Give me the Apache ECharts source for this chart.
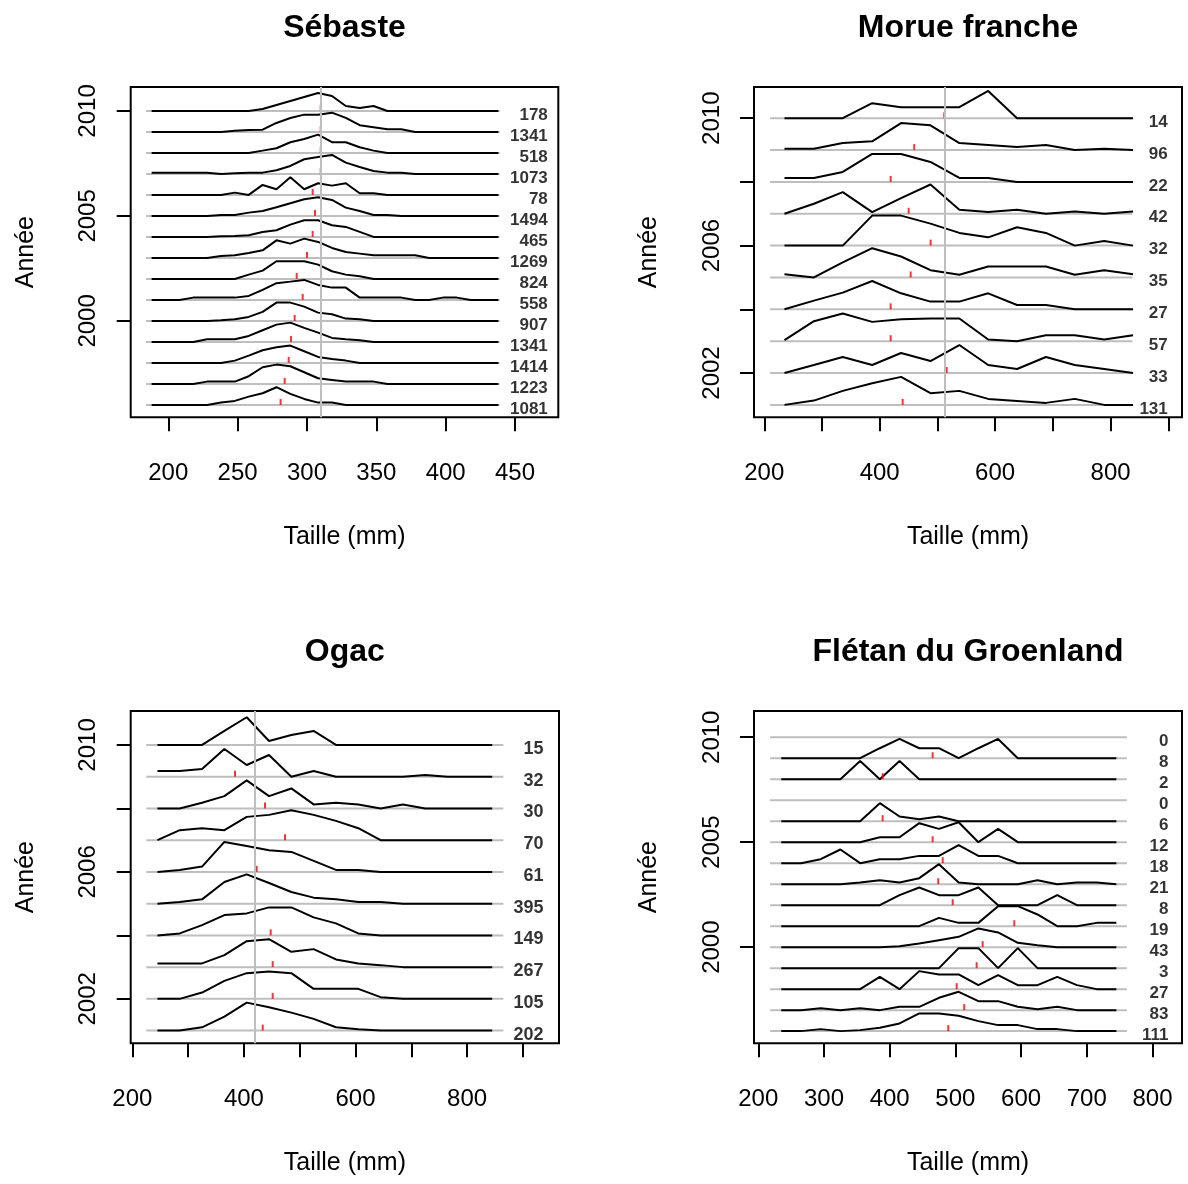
<!DOCTYPE html>
<html>
<head>
<meta charset="utf-8">
<script src="https://cdn.jsdelivr.net/npm/echarts@6/dist/echarts.min.js"></script>
<style>
  html, body { margin: 0; padding: 0; background: #ffffff; }
  #chart { width: 1188px; height: 1184px; }
</style>
</head>
<body>
<div id="chart"></div>
<script>
// Length-frequency profiles per year for four species.
// Each row: relative frequency by length class, drawn above its year baseline.

// ---------- Sébaste ----------
const sebasteTailles = [188,198,208,218,228,238,248,258,268,278,288,298,308,318,328,338,348,358,368,378,388,398,408,418,428,438];
const sebasteAnnees = [2010,2009,2008,2007,2006,2005,2004,2003,2002,2001,2000,1999,1998,1997,1996];
const sebasteEffectifs = [178,1341,518,1073,78,1494,465,1269,824,558,907,1341,1414,1223,1081];
const sebasteMoyennes = [309.9,309.9,309.9,309.9,304.1,305.8,304.1,300.0,292.6,296.9,291.1,288.5,286.8,283.9,281.0];
const sebasteFrequences = [
  [0,0,0,0,0,0,0,0,2,6,10,14,18,15,5,3,5,0,0,0,0,0,0,0,0,0],
  [0,0,0,0,0,0,1.3,2,2.3,9,14,17.3,17.3,19.3,14,6.7,4.7,2.7,2.7,0,0,0,0,0,0,0],
  [0,0,0,0,0,0,0,0,2.3,4.7,10.7,14,18.3,10.7,10.7,5.7,2.3,0,0,0,0,0,0,0,0,0],
  [1.3,1.3,1.3,1.3,1.3,0,0.7,1.3,1.3,3.7,8,14.7,17,19,11.3,7,3,1.3,1.3,0,0,0,0,0,0,0],
  [0,0,0,0,0,0,2.3,0,10,5.7,17.7,5.7,11.7,9.3,11.7,1.7,1.7,0,0,0,0,0,0,0,0,0],
  [0,0,0,0,0,1,1,3.3,5,8.7,12.7,16.7,18.7,16,8.3,5,1,1,0,0,0,0,0,0,0,0],
  [0,0,0,0,0,0.7,1,1.7,5,6.7,12.3,16.7,16.7,11.7,10,5,0,0,0,0,0,0,0,0,0,0],
  [0,0,0,0,0,2,2.6,5,7.6,17.6,14.3,19.3,16,10,6,4.3,2.6,2.6,2.6,2.6,0,0,0,0,0,0],
  [0,0,0,0,0,0,0,4.3,8.3,17.7,17.7,17.7,14.3,7.7,4.3,2.7,0,0,0,0,0,0,0,0,0,0],
  [0,0,0,2.3,2.3,2.3,2.3,4,10,16.7,18.3,20,15,12.3,12.3,2.3,2.3,2.3,2.3,0,0,2.3,2.3,0,0,0],
  [0,0,0,0,0,0.7,1.7,4,9,18.3,18.3,14.3,8.3,6.7,2.3,1.7,0,0,0,0,0,0,0,0,0,0],
  [0,0,0,0,2.7,2.7,2.7,6,11.7,17.3,19.3,14,9.3,4,2.7,1.7,0,0,0,0,0,0,0,0,0,0],
  [0,0,0,0,0,0,2.3,7.3,12.7,15.7,17.3,11.7,6,4,2.3,0,0,0,0,0,0,0,0,0,0,0],
  [0,0,0,0,2.3,2.3,2.3,7.7,16.7,19.3,17.7,11.7,5.7,4,2.3,2.3,2.3,0,0,0,0,0,0,0,0,0],
  [0,0,0,0,0,2.3,4,8.3,11.7,17.7,11,6,2.3,2.3,0,0,0,0,0,0,0,0,0,0,0,0]
];
const sebasteReference = 310;

// ---------- Morue franche ----------
const morueTailles = [235,286,336,387,437,488,538,588,638,688,738,789,839];
const morueAnnees = [2010,2009,2008,2007,2006,2005,2004,2003,2002,2001];
const morueEffectifs = [14,96,22,42,32,35,27,57,33,131];
const morueMoyennes = [511.9,459.9,419.0,450.2,488.3,453.7,419.0,419.0,516.0,439.8];
const morueFrequences = [
  [0,0,0,15,11,11,11,27.3,0,0,0,0,0],
  [1.3,1.3,7,8.7,27,24.7,7,5,3,5,0,1.3,0],
  [4,4,10,28,28,20,4,4,0,0,0,0,0],
  [0,10,21.7,1.7,15.7,29.3,4,1.7,4,0,2.3,0,2.3],
  [0,0,0,30,30,22,12.7,8.3,18.3,12.7,0,4.7,0],
  [3.3,0,15,29.3,21,7.3,2.7,11,11,11,2.7,7.3,3.3],
  [0,8.7,16.7,28.3,16,7.7,7.7,16,4.3,4.3,0,0,0],
  [1,20,27.7,19.3,22,22.7,22.7,1.7,0,6,6,1.7,6],
  [0,8,16,8,20,12,28,8,4,16,8,4,0],
  [0,4.3,14,21.7,28,11.7,14,6,4,2,6,0,0]
];
const morueReference = 512;

// ---------- Ogac ----------
const ogacTailles = [245,285,325,365,405,445,485,525,565,605,645,685,725,765,805,845];
const ogacAnnees = [2010,2009,2008,2007,2006,2005,2004,2003,2002,2001];
const ogacEffectifs = [15,32,30,70,61,395,149,267,105,202];
const ogacMoyennes = [419.9,384.0,437.8,473.7,422.9,419.9,448.0,451.6,451.6,433.7];
const ogacFrequences = [
  [0,0,0,14,27.7,4,10,14,0,0,0,0,0,0,0,0],
  [5.7,5.7,7.7,27.7,11.7,21.7,0,5.7,0,0,0,0,1.7,0,0,0],
  [0,0,5.7,12.3,28,12.3,20,4,5.7,4,0,4,0,0,0,0],
  [0,10,12,10,23.3,25.3,30,25.3,19.3,12,0,0,0,0,0,0],
  [0,2,5.3,30,26,21.7,20,11,2,2,0,0,0,0,0,0],
  [0,1.7,4.3,21.7,29.3,20.7,11.7,6,4.3,1.7,1.7,0,0,0,0,0],
  [0,2,10.3,20.3,22,28,28,18,12,2,0,0,0,0,0,0],
  [3.7,3.7,3.7,12,26,28,15.3,18,7.7,3.7,2,0,0,0,0,0],
  [0,0,6.3,18,25.7,27.3,25.7,10,10,10,1.7,0,0,0,0,0],
  [0,0,3.3,14,28,23.3,18,11.7,3.3,1.3,0,0,0,0,0,0]
];
const ogacReference = 419;

// ---------- Flétan du Groenland ----------
const fletanTailles = [235,265,295,325,355,385,415,445,475,505,535,565,595,625,655,685,715,745];
const fletanAnnees = [2010,2009,2008,2007,2006,2005,2004,2003,2002,2001,2000,1999,1998,1997,1996];
const fletanEffectifs = [0,8,2,0,6,12,18,21,8,19,43,3,27,83,111];
const fletanMoyennes = [null,465.4,389.3,null,389.3,465.4,480.7,474.0,495.9,589.7,541.5,532.4,502.0,513.5,489.2];
const fletanFrequences = [
  null,
  [0,0,0,0,0,10,19.3,10,10,0,10,19.3,0,0,0,0,0,0],
  [0,0,0,0,18.3,0,18.3,0,0,0,0,0,0,0,0,0,0,0],
  null,
  [0,0,0,0,0,18,4.7,2,4.7,0,0,0,0,0,0,0,0,0],
  [0,0,0,0,0,5,5,19,13.3,20,0,13.3,0,0,0,0,0,0],
  [0,0,4,13.7,0,4,4,7.3,7.3,18,7.3,7.3,0,0,0,0,0,0],
  [0,0,0,0,1.7,4,1.7,6,20,1.7,0,0,0,4,0,1.7,1.7,0],
  [0,0,0,0,0,0,10,17.7,10,10,17.7,0,0,0,10,0,0,0],
  [0,0,0,0,0,0,0,0,8.3,3.3,3.3,20,20,11.7,0,0,3.3,3.3],
  [0,0,0,0,0,0,1,3.7,7,10.3,18.7,14.7,4.3,2,0,0,0,0],
  [0,0,0,0,0,0,0,0,0,20,20,0,20,0,0,0,0,0],
  [0,0,0,0,0,12.3,0,18,14.7,14.7,4,14,4,4,12.3,4,0,0],
  [0,0,2,0,2,0,3.3,3.3,12.3,18.3,9,9,3.3,1,3.3,0,0,0],
  [0,0,2,0,1,3.3,7.7,17.7,17.7,15.3,10,6,6,2,2,0,0,0]
];
const fletanReference = null;

// ---------- layout of the four panels ----------
const FONT = '"Liberation Sans", Arial, Helvetica, sans-serif';

const panneaux = [
  { titre: 'Sébaste', tailles: sebasteTailles, annees: sebasteAnnees, effectifs: sebasteEffectifs,
    moyennes: sebasteMoyennes, frequences: sebasteFrequences, reference: sebasteReference,
    grille: { left: 130.7, top: 87, width: 427.6, height: 330.3 },
    xMin: 172.9, xMax: 481.2, xTicks: [200,250,300,350,400,450], xLabels: [200,250,300,350,400,450],
    yMin: 1995.41, yMax: 2011.14, yTicks: [2000,2005,2010], yLabels: [2000,2005,2010],
    gris: [184, 439], xEtiquette: 474, policeEffectif: 17, echelle: 1 / 21 },
  { titre: 'Morue franche', tailles: morueTailles, annees: morueAnnees, effectifs: morueEffectifs,
    moyennes: morueMoyennes, frequences: morueFrequences, reference: morueReference,
    grille: { left: 754, top: 87, width: 428, height: 330.3 },
    xMin: 182.2, xMax: 923.8, xTicks: [200,300,400,500,600,700,800,900], xLabels: [200,400,600,800],
    yMin: 2000.61, yMax: 2010.98, yTicks: [2002,2004,2006,2008,2010], yLabels: [2002,2006,2010],
    gris: [210, 838], xEtiquette: 900, policeEffectif: 17, echelle: 1 / 31.85 },
  { titre: 'Ogac', tailles: ogacTailles, annees: ogacAnnees, effectifs: ogacEffectifs,
    moyennes: ogacMoyennes, frequences: ogacFrequences, reference: ogacReference,
    grille: { left: 130.7, top: 711, width: 428.3, height: 332.3 },
    xMin: 197.1, xMax: 964.7, xTicks: [200,300,400,500,600,700,800,900], xLabels: [200,400,600,800],
    yMin: 2000.60, yMax: 2011.07, yTicks: [2002,2004,2006,2008,2010], yLabels: [2002,2006,2010],
    gris: [225, 865], xEtiquette: 938, policeEffectif: 18, echelle: 1 / 31.74 },
  { titre: 'Flétan du Groenland', tailles: fletanTailles, annees: fletanAnnees, effectifs: fletanEffectifs,
    moyennes: fletanMoyennes, frequences: fletanFrequences, reference: fletanReference,
    grille: { left: 754, top: 711, width: 428, height: 332.3 },
    xMin: 193.5, xMax: 844.9, xTicks: [200,300,400,500,600,700,800], xLabels: [200,300,400,500,600,700,800],
    yMin: 1995.42, yMax: 2011.25, yTicks: [2000,2005,2010], yLabels: [2000,2005,2010],
    gris: [218, 761], xEtiquette: 825, policeEffectif: 17, echelle: 1 / 20.98 }
];

const titles = [], grids = [], xAxes = [], yAxes = [], series = [];

panneaux.forEach((p, i) => {
  const g = p.grille;
  grids.push({ left: g.left, top: g.top, width: g.width, height: g.height,
    show: true, borderColor: '#000', borderWidth: 2, backgroundColor: 'transparent', containLabel: false });

  titles.push({ text: p.titre, left: g.left + g.width / 2, top: g.top - 75, textAlign: 'center', padding: 0,
    textStyle: { fontFamily: FONT, fontSize: 32, fontWeight: 'bold', color: '#000' } });

  xAxes.push({ gridIndex: i, type: 'value', min: p.xMin, max: p.xMax,
    axisLine: { show: false }, splitLine: { show: false },
    axisTick: { show: true, length: 14, customValues: p.xTicks, lineStyle: { color: '#000', width: 2 } },
    axisLabel: { show: true, customValues: p.xLabels, margin: 44, fontSize: 24, color: '#000',
      fontFamily: FONT, formatter: v => String(v) },
    name: 'Taille (mm)', nameLocation: 'middle', nameGap: 107,
    nameTextStyle: { fontSize: 25, color: '#000', fontFamily: FONT } });

  yAxes.push({ gridIndex: i, type: 'value', min: p.yMin, max: p.yMax,
    axisLine: { show: false }, splitLine: { show: false },
    axisTick: { show: true, length: 14, customValues: p.yTicks, lineStyle: { color: '#000', width: 2 } },
    axisLabel: { show: true, customValues: p.yLabels, rotate: 90, margin: 30, fontSize: 24, color: '#000',
      fontFamily: FONT, formatter: v => String(v) },
    name: 'Année', nameLocation: 'middle', nameGap: 92, nameRotate: 90,
    nameTextStyle: { fontSize: 25, color: '#000', fontFamily: FONT } });

  // grey baseline per year (plus the reference length as a vertical line)
  p.annees.forEach((an, j) => {
    const base = { type: 'line', xAxisIndex: i, yAxisIndex: i, silent: true, symbol: 'none',
      data: [[p.gris[0], an], [p.gris[1], an]],
      lineStyle: { color: '#bebebe', width: 2 }, z: 1, animation: false };
    if (j === 0 && p.reference != null) {
      base.markLine = { silent: true, symbol: 'none', animation: false,
        label: { show: false }, lineStyle: { color: '#bebebe', width: 2, type: 'solid' },
        data: [{ xAxis: p.reference }] };
    }
    series.push(base);
  });

  // frequency profile above each baseline
  p.annees.forEach((an, j) => {
    const f = p.frequences[j];
    if (!f) return;
    series.push({ type: 'line', xAxisIndex: i, yAxisIndex: i, silent: true, symbol: 'none',
      data: p.tailles.map((t, k) => [t, an + f[k] * p.echelle]),
      lineStyle: { color: '#000', width: 2 }, z: 3, animation: false, clip: false });
  });

  // mean length marks
  series.push({ type: 'scatter', xAxisIndex: i, yAxisIndex: i, silent: true,
    data: p.annees.map((an, j) => p.moyennes[j] == null ? null : [p.moyennes[j], an]).filter(d => d),
    symbol: 'rect', symbolSize: [2, 6], symbolOffset: [0, -3],
    itemStyle: { color: '#ff0000' }, z: 4, animation: false });

  // sample sizes on the right
  series.push({ type: 'scatter', xAxisIndex: i, yAxisIndex: i, silent: true,
    data: p.annees.map((an, j) => [p.xEtiquette, an, p.effectifs[j]]),
    symbolSize: 1, itemStyle: { color: 'rgba(0,0,0,0)' },
    label: { show: true, position: 'left', distance: 0, offset: [0, 4],
      formatter: q => String(q.value[2]), fontFamily: FONT, fontWeight: 'bold',
      fontSize: p.policeEffectif, color: '#000' },
    z: 5, animation: false });
});

const chart = echarts.init(document.getElementById('chart'), null, { renderer: 'canvas' });
chart.setOption({
  backgroundColor: '#ffffff',
  animation: false,
  title: titles,
  grid: grids,
  xAxis: xAxes,
  yAxis: yAxes,
  series: series
});
</script>
</body>
</html>
